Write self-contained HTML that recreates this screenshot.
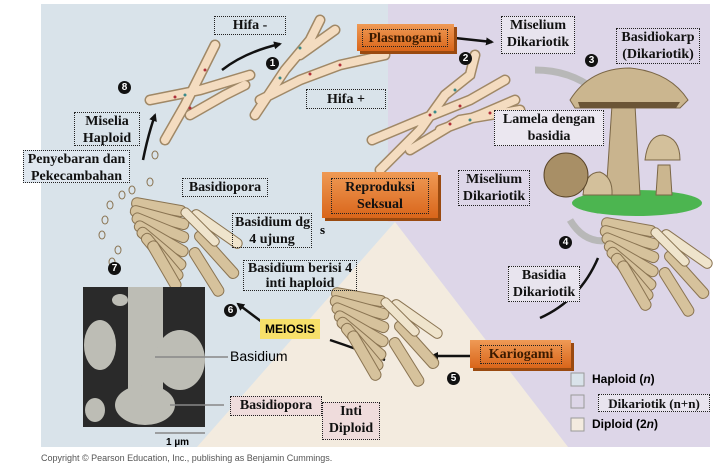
<!DOCTYPE html>
<html><head><meta charset="utf-8"><style>
body{margin:0;width:722px;height:465px;background:#fff;overflow:hidden;position:relative;font-family:"Liberation Serif",serif}
.l{position:absolute;font-weight:bold;font-size:14px;color:#111;text-align:center;line-height:17px;border:1px dotted #222;padding:0 2px;box-sizing:border-box;white-space:nowrap}
.num{position:absolute;width:13px;height:13px;border-radius:50%;background:#111;color:#fff;font:bold 10px "Liberation Sans",sans-serif;text-align:center;line-height:13px}
.or{position:absolute;background:linear-gradient(#ef9a55,#d9651a);box-shadow:3px 3px 0 #9a4a10}
.sans{font-family:"Liberation Sans",sans-serif}
</style></head><body>
<svg width="722" height="465" style="position:absolute;left:0;top:0">
<defs>
<marker id="a" markerWidth="8" markerHeight="8" refX="6" refY="4" orient="auto" markerUnits="userSpaceOnUse"><path d="M0,0 L8,4 L0,8Z" fill="#111"/></marker>
<g id="bas" fill="#d6c29c" stroke="#8a7452" stroke-width="1">
<rect x="-50" y="-40" width="55" height="11" rx="5" transform="rotate(10)"/>
<rect x="-52" y="-28" width="60" height="11" rx="5" transform="rotate(15)"/>
<rect x="-50" y="-16" width="60" height="11" rx="5" transform="rotate(22)"/>
<rect x="-45" y="-4" width="60" height="11" rx="5" transform="rotate(30)"/>
<rect x="-38" y="6" width="60" height="11" rx="5" transform="rotate(40)"/>
<rect x="-28" y="12" width="58" height="11" rx="5" transform="rotate(50)"/>
<rect x="-15" y="14" width="55" height="11" rx="5" transform="rotate(60)"/>
<rect x="-5" y="-42" width="60" height="10" rx="5" transform="rotate(35)" fill="#efe4cc"/>
<rect x="5" y="-30" width="60" height="11" rx="5" transform="rotate(48)"/>
<rect x="12" y="-18" width="55" height="11" rx="5" transform="rotate(58)"/>
<rect x="-20" y="-35" width="50" height="9" rx="4" transform="rotate(45)" fill="#efe4cc"/>
</g>
</defs>
<rect x="41" y="4" width="669" height="443" fill="#d9e3ea"/>
<polygon points="388,4 710,4 710,447 568,447 395,222 388,222" fill="#ddd6e8"/>
<polygon points="395,222 568,447 197,447" fill="#f3ebdf"/>
<g stroke="#a08866" stroke-width="11" fill="none" stroke-linecap="round">
<path d="M150,100 L200,90 L250,75 M165,140 L185,105 L200,75 L215,45 M190,115 L225,95 L245,85 M255,115 L285,70 L310,40 L320,20 M260,100 L300,80 L340,65 L385,55 M300,55 L335,30"/>
<path d="M372,140 L420,120 L470,100 L505,80 M380,170 L420,130 L445,95 L470,75 L475,55 M410,150 L460,120 L520,110 M440,130 L480,115 L515,100"/>
</g>
<g stroke="#f4dcc0" stroke-width="8" fill="none" stroke-linecap="round">
<path d="M150,100 L200,90 L250,75 M165,140 L185,105 L200,75 L215,45 M190,115 L225,95 L245,85 M255,115 L285,70 L310,40 L320,20 M260,100 L300,80 L340,65 L385,55 M300,55 L335,30"/>
<path d="M372,140 L420,120 L470,100 L505,80 M380,170 L420,130 L445,95 L470,75 L475,55 M410,150 L460,120 L520,110 M440,130 L480,115 L515,100"/>
</g>
<g fill="#b0303a"><circle cx="175" cy="97" r="1.5"/><circle cx="190" cy="108" r="1.5"/><circle cx="205" cy="70" r="1.5"/><circle cx="310" cy="74" r="1.5"/><circle cx="340" cy="65" r="1.5"/><circle cx="430" cy="115" r="1.5"/><circle cx="460" cy="106" r="1.5"/><circle cx="450" cy="124" r="1.5"/><circle cx="490" cy="113" r="1.5"/></g>
<g fill="#3a8a8a"><circle cx="185" cy="95" r="1.5"/><circle cx="280" cy="78" r="1.5"/><circle cx="300" cy="48" r="1.5"/><circle cx="435" cy="112" r="1.5"/><circle cx="455" cy="90" r="1.5"/><circle cx="470" cy="120" r="1.5"/></g>
<g stroke="#111" stroke-width="2.5" fill="none">
<path d="M222,70 Q245,52 280,44" marker-end="url(#a)"/><path d="M143,160 Q148,135 155,115" marker-end="url(#a)"/><path d="M455,38 L492,42" marker-end="url(#a)"/>
<path d="M598,258 Q580,300 540,318"/><path d="M470,356 L432,356" marker-end="url(#a)"/><path d="M385,360 Q360,350 330,340"/><path d="M262,322 L238,304" marker-end="url(#a)"/>
</g>
<path d="M535,70 Q570,70 595,90" stroke="#b8b8b8" stroke-width="7" fill="none"/>
<path d="M570,220 Q585,245 610,240" stroke="#b8b8b8" stroke-width="7" fill="none"/>
<ellipse cx="637" cy="203" rx="65" ry="13" fill="#4cb550"/>
<path d="M612,105 L635,105 L640,195 L606,195Z" fill="#c9b48e" stroke="#7a6646"/>
<path d="M570,100 Q590,68 630,68 Q670,72 688,100 L680,108 L575,108Z" fill="#cbb68f" stroke="#7a6646"/>
<path d="M578,102 L680,102 L676,108 L580,108Z" fill="#6b5536"/>
<path d="M658,165 L670,165 L672,195 L656,195Z" fill="#cbb68f" stroke="#7a6646"/>
<path d="M645,160 Q648,135 663,135 Q680,138 680,160Z" fill="#d3c09b" stroke="#7a6646"/>
<path d="M583,195 Q585,172 600,172 Q613,177 612,195Z" fill="#d3c09b" stroke="#7a6646"/>
<circle cx="566" cy="175" r="22" fill="#a88f66" stroke="#5a4528"/>
<use href="#bas" transform="translate(175,245)"/>
<use href="#bas" transform="translate(375,335)"/>
<use href="#bas" transform="translate(645,265)"/>
<g fill="none" stroke="#8a7452"><ellipse cx="110" cy="205" rx="3" ry="4"/><ellipse cx="105" cy="220" rx="3" ry="4"/><ellipse cx="102" cy="235" rx="3" ry="4"/><ellipse cx="122" cy="195" rx="3" ry="4"/><ellipse cx="132" cy="190" rx="3" ry="4"/><ellipse cx="150" cy="182" rx="3" ry="4"/><ellipse cx="155" cy="155" rx="3" ry="4"/><ellipse cx="118" cy="250" rx="3" ry="4"/><ellipse cx="112" cy="262" rx="3" ry="4"/></g>
<rect x="83" y="287" width="122" height="140" fill="#2a2a2a"/>
<g fill="#bdbdb5"><rect x="128" y="287" width="35" height="130"/><ellipse cx="100" cy="345" rx="16" ry="25"/><ellipse cx="180" cy="360" rx="25" ry="30"/><ellipse cx="145" cy="405" rx="30" ry="20"/><ellipse cx="95" cy="410" rx="10" ry="12"/><ellipse cx="120" cy="300" rx="8" ry="6"/></g>
<g stroke="#888" stroke-width="1.5"><line x1="155" y1="357" x2="228" y2="357"/><line x1="170" y1="405" x2="224" y2="405"/><line x1="155" y1="433" x2="205" y2="433"/></g>
<rect x="571" y="373" width="13" height="13" fill="#d9e3ea" stroke="#999"/>
<rect x="571" y="395" width="13" height="13" fill="#ddd6e8" stroke="#999"/>
<rect x="571" y="418" width="13" height="13" fill="#f3ebdf" stroke="#999"/>
</svg>
<div class="num" style="left:118px;top:81px">8</div>
<div class="num" style="left:266px;top:57px">1</div>
<div class="num" style="left:459px;top:52px">2</div>
<div class="num" style="left:585px;top:54px">3</div>
<div class="num" style="left:559px;top:236px">4</div>
<div class="num" style="left:447px;top:372px">5</div>
<div class="num" style="left:224px;top:304px">6</div>
<div class="num" style="left:108px;top:262px">7</div>
<div class="or" style="left:357px;top:24px;width:97px;height:27px"></div>
<div class="or" style="left:322px;top:172px;width:116px;height:46px"></div>
<div class="or" style="left:470px;top:340px;width:101px;height:28px"></div>
<div class="l" style="left:214px;top:16px;width:72px;height:19px">Hifa -</div>
<div class="l" style="left:306px;top:89px;width:80px;height:20px;line-height:19px">Hifa +</div>
<div class="l" style="left:362px;top:29px;width:86px;height:18px;color:#3a1a00">Plasmogami</div>
<div class="l" style="left:501px;top:16px;width:74px;height:38px;background:#e8e4ee">Miselium<br>Dikariotik</div>
<div class="l" style="left:616px;top:28px;width:84px;height:36px">Basidiokarp<br>(Dikariotik)</div>
<div class="l" style="left:494px;top:110px;width:110px;height:36px;background:#ebe7f0">Lamela dengan<br>basidia</div>
<div class="l" style="left:458px;top:170px;width:72px;height:36px">Miselium<br>Dikariotik</div>
<div class="l" style="left:331px;top:178px;width:98px;height:36px">Reproduksi<br>Seksual</div>
<div class="l" style="left:74px;top:112px;width:66px;height:34px">Miselia<br>Haploid</div>
<div class="l" style="left:23px;top:150px;width:107px;height:33px;background:#dfe7ef">Penyebaran dan<br>Pekecambahan</div>
<div class="l" style="left:182px;top:178px;width:86px;height:19px">Basidiopora</div>
<div class="l" style="left:232px;top:213px;width:80px;height:35px">Basidium dg<br>4 ujung</div>
<div style="position:absolute;left:320px;top:222px;font-weight:bold;font-size:13px">s</div>
<div class="l" style="left:243px;top:260px;width:114px;height:31px;line-height:15px">Basidium berisi 4<br>inti haploid</div>
<div class="sans" style="position:absolute;left:260px;top:319px;width:60px;height:20px;background:#f7e06a;font-weight:bold;font-size:12px;text-align:center;line-height:20px">MEIOSIS</div>
<div class="sans" style="position:absolute;left:230px;top:348px;font-size:14px">Basidium</div>
<div class="l" style="left:230px;top:396px;width:92px;height:20px;background:#efdcdc">Basidiopora</div>
<div class="l" style="left:322px;top:402px;width:58px;height:38px;background:#efdcdc">Inti<br>Diploid</div>
<div class="l" style="left:480px;top:345px;width:82px;height:19px;color:#3a1a00">Kariogami</div>
<div class="l" style="left:508px;top:266px;width:72px;height:36px;background:#e8e4ee">Basidia<br>Dikariotik</div>
<div class="sans" style="position:absolute;left:592px;top:372px;font-size:12px;font-weight:bold">Haploid (<i>n</i>)</div>
<div class="l" style="left:598px;top:394px;width:112px;height:18px;font-size:13px;background:#e8e4ee">Dikariotik (n+n)</div>
<div class="sans" style="position:absolute;left:592px;top:417px;font-size:12px;font-weight:bold">Diploid (2<i>n</i>)</div>
<div class="sans" style="position:absolute;left:166px;top:437px;font-size:10px;font-weight:bold">1 µm</div>
<div class="sans" style="position:absolute;left:41px;top:453px;font-size:9px;color:#555">Copyright © Pearson Education, Inc., publishing as Benjamin Cummings.</div>
</body></html>
